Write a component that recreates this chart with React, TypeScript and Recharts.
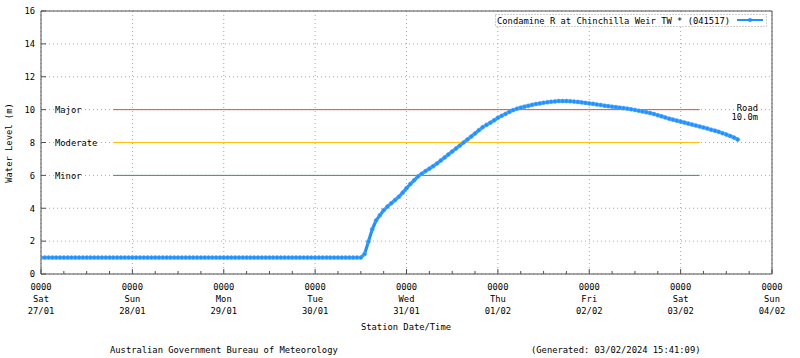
import React from 'react';
import { LineChart, Line, XAxis, YAxis, CartesianGrid, ReferenceLine, ReferenceArea } from 'recharts';

const seriesName = 'Condamine R at Chinchilla Weir TW * (041517)';

// Hourly water level readings (m), starting Sat 27/01 0000
const levels = [
  1.0, 1.0, 1.0, 1.0, 1.0, 1.0, 1.0, 1.0, 1.0, 1.0, 1.0, 1.0,
  1.0, 1.0, 1.0, 1.0, 1.0, 1.0, 1.0, 1.0, 1.0, 1.0, 1.0, 1.0,
  1.0, 1.0, 1.0, 1.0, 1.0, 1.0, 1.0, 1.0, 1.0, 1.0, 1.0, 1.0,
  1.0, 1.0, 1.0, 1.0, 1.0, 1.0, 1.0, 1.0, 1.0, 1.0, 1.0, 1.0,
  1.0, 1.0, 1.0, 1.0, 1.0, 1.0, 1.0, 1.0, 1.0, 1.0, 1.0, 1.0,
  1.0, 1.0, 1.0, 1.0, 1.0, 1.0, 1.0, 1.0, 1.0, 1.0, 1.0, 1.0,
  1.0, 1.0, 1.0, 1.0, 1.0, 1.0, 1.0, 1.0, 1.0, 1.0, 1.0, 1.0,
  1.0, 1.22, 1.97, 2.72, 3.25, 3.57, 3.88, 4.1, 4.3, 4.5, 4.7, 4.95,
  5.22, 5.47, 5.7, 5.93, 6.1, 6.26, 6.41, 6.56, 6.72, 6.9, 7.08, 7.27,
  7.45, 7.63, 7.81, 8.0, 8.18, 8.36, 8.55, 8.74, 8.93, 9.07, 9.2, 9.35,
  9.5, 9.62, 9.74, 9.86, 9.97, 10.05, 10.12, 10.18, 10.23, 10.29, 10.34, 10.38,
  10.42, 10.45, 10.48, 10.5, 10.52, 10.52, 10.52, 10.51, 10.49, 10.47, 10.44, 10.41,
  10.38, 10.35, 10.31, 10.28, 10.24, 10.21, 10.18, 10.15, 10.12, 10.09, 10.06, 10.02,
  9.98, 9.93, 9.89, 9.84, 9.79, 9.73, 9.66, 9.59, 9.52, 9.45, 9.39, 9.33,
  9.27, 9.21, 9.15, 9.09, 9.03, 8.97, 8.91, 8.85, 8.78, 8.72, 8.65, 8.57,
  8.48, 8.4, 8.3, 8.18,
];

const dayTicks = [0, 24, 48, 72, 96, 120, 144, 168, 192];
const dayTimes = ['0000', '0000', '0000', '0000', '0000', '0000', '0000', '0000', '0000'];
const dayNames = ['Sat', 'Sun', 'Mon', 'Tue', 'Wed', 'Thu', 'Fri', 'Sat', 'Sun'];
const dayDates = ['27/01', '28/01', '29/01', '30/01', '31/01', '01/02', '02/02', '03/02', '04/02'];
const hourTicks = [
  0, 6, 12, 18, 24, 30, 36, 42, 48, 54, 60, 66, 72, 78, 84, 90, 96, 102, 108, 114, 120,
  126, 132, 138, 144, 150, 156, 162, 168, 174, 180, 186, 192,
];
const levelTicks = [0, 2, 4, 6, 8, 10, 12, 14, 16];

const thresholdNames = ['Major', 'Moderate', 'Minor'];
const thresholdLevels = [10, 8, 6];
const thresholdColors = ['#ff4040', '#ffc010', '#2e9a5a'];
const thresholdSpan = [19, 173];

const roadName = 'Road';
const roadLabel = '10.0m';
const roadLevel = 10.0;

const xTitle = 'Station Date/Time';
const yTitle = 'Water Level (m)';
const footerLeft = 'Australian Government Bureau of Meteorology';
const footerRight = '(Generated: 03/02/2024 15:41:09)';

const data = levels.map((level, i) => ({ t: i, level }));

const FONT = '"DejaVu Sans Mono", "Liberation Mono", monospace';
const FS = 8.8;
const AXIS = '#505050';
const BLUE = '#1e90ff';

const XTick = (props: any) => {
  const { x, y, payload } = props;
  const idx = dayTicks.indexOf(payload.value);
  const major = idx >= 0;
  return (
    <g>
      <line x1={x} x2={x} y1={y} y2={y - (major ? 5 : 3)} stroke={AXIS} />
      {major && (
        <text textAnchor="middle" fontFamily={FONT} fontSize={FS} fill="#000">
          <tspan x={x} y={y + 16}>{dayTimes[idx]}</tspan>
          <tspan x={x} y={y + 28}>{dayNames[idx]}</tspan>
          <tspan x={x} y={y + 40}>{dayDates[idx]}</tspan>
        </text>
      )}
    </g>
  );
};

const YTickLeft = (props: any) => {
  const { x, y, payload } = props;
  return (
    <g>
      <line x1={x} x2={x + 5} y1={y} y2={y} stroke={AXIS} />
      <text x={x - 6} y={y + 3.3} textAnchor="end" fontFamily={FONT} fontSize={FS} fill="#000">
        {payload.value}
      </text>
    </g>
  );
};

const YTickRight = (props: any) => {
  const { x, y } = props;
  return <line x1={x} x2={x - 5} y1={y} y2={y} stroke={AXIS} />;
};

const thresholdLabel = (name: string) => (props: any) => {
  const vb = props.viewBox || {};
  return (
    <text x={55} y={vb.y + 3.3} fontFamily={FONT} fontSize={FS} fill="#000">
      {name}
    </text>
  );
};

const roadLabelContent = (props: any) => {
  const vb = props.viewBox || {};
  return (
    <g>
      <text x={758} y={vb.y + 1.5} textAnchor="end" fontFamily={FONT} fontSize={FS} fill="#000">
        {roadName}
      </text>
      <text x={758} y={vb.y + 10.5} textAnchor="end" fontFamily={FONT} fontSize={FS} fill="#000">
        {roadLabel}
      </text>
    </g>
  );
};

export default function App() {
  return (
    <div style={{ position: 'absolute', left: 0, top: 0, width: 800, height: 358, background: '#fff' }}>
      <LineChart width={800} height={358} data={data} margin={{ top: 11, right: 0, bottom: 0, left: 0 }}>
        <CartesianGrid
          yAxisId="left"
          stroke="#a8a8a8"
          strokeDasharray="1 3"
          verticalValues={dayTicks}
          horizontalValues={levelTicks}
        />
        <XAxis
          dataKey="t"
          type="number"
          domain={[0, 192]}
          ticks={hourTicks}
          interval={0}
          height={84}
          tickSize={0}
          tickMargin={0}
          axisLine={false}
          tickLine={false}
          tick={(p: any) => <XTick {...p} />}
          allowDataOverflow
        />
        <YAxis
          yAxisId="left"
          type="number"
          domain={[0, 16]}
          ticks={levelTicks}
          interval={0}
          width={41}
          tickSize={0}
          tickMargin={0}
          axisLine={false}
          tickLine={false}
          tick={(p: any) => <YTickLeft {...p} />}
        />
        <YAxis
          yAxisId="right"
          orientation="right"
          type="number"
          domain={[0, 16]}
          ticks={levelTicks}
          interval={0}
          width={28}
          tickSize={0}
          tickMargin={0}
          axisLine={false}
          tickLine={false}
          tick={(p: any) => <YTickRight {...p} />}
        />
        {thresholdNames.map((name, i) => (
          <ReferenceLine
            key={name}
            yAxisId="left"
            segment={[
              { x: thresholdSpan[0], y: thresholdLevels[i] },
              { x: thresholdSpan[1], y: thresholdLevels[i] },
            ]}
            stroke={thresholdColors[i]}
            strokeWidth={1}
            label={thresholdLabel(name)}
          />
        ))}
        <ReferenceLine yAxisId="left" y={roadLevel} stroke="none" strokeOpacity={0} label={roadLabelContent} />
        <Line
          yAxisId="left"
          type="linear"
          dataKey="level"
          name={seriesName}
          stroke={BLUE}
          strokeWidth={3.2}
          dot={{ r: 2, fill: BLUE, stroke: '#5aacff', strokeWidth: 0.6 }}
          isAnimationActive={false}
        />
        <ReferenceArea
          yAxisId="left"
          x1={0}
          x2={192}
          y1={0}
          y2={16}
          fill="none"
          fillOpacity={0}
          stroke={AXIS}
          strokeWidth={1}
          ifOverflow="visible"
        />
      </LineChart>
      <svg
        width={800}
        height={358}
        style={{ position: 'absolute', left: 0, top: 0, pointerEvents: 'none' }}
        fontFamily={FONT}
        fontSize={FS}
      >
        <rect x={495.5} y={14.5} width={271} height={12} fill="#fff" stroke="#a0a0a0" strokeDasharray="1 2" />
        <text x={497} y={23.5} fill="#000">{seriesName}</text>
        <line x1={737} x2={763} y1={20} y2={20} stroke={BLUE} strokeWidth={2} />
        <circle cx={750} cy={20} r={2} fill={BLUE} />
        <text x={406} y={330} textAnchor="middle" fill="#000">{xTitle}</text>
        <text x={12} y={143} textAnchor="middle" fill="#000" transform="rotate(-90 12 143)">{yTitle}</text>
        <text x={110} y={353} fill="#000">{footerLeft}</text>
        <text x={531} y={353} fill="#000">{footerRight}</text>
      </svg>
    </div>
  );
}
